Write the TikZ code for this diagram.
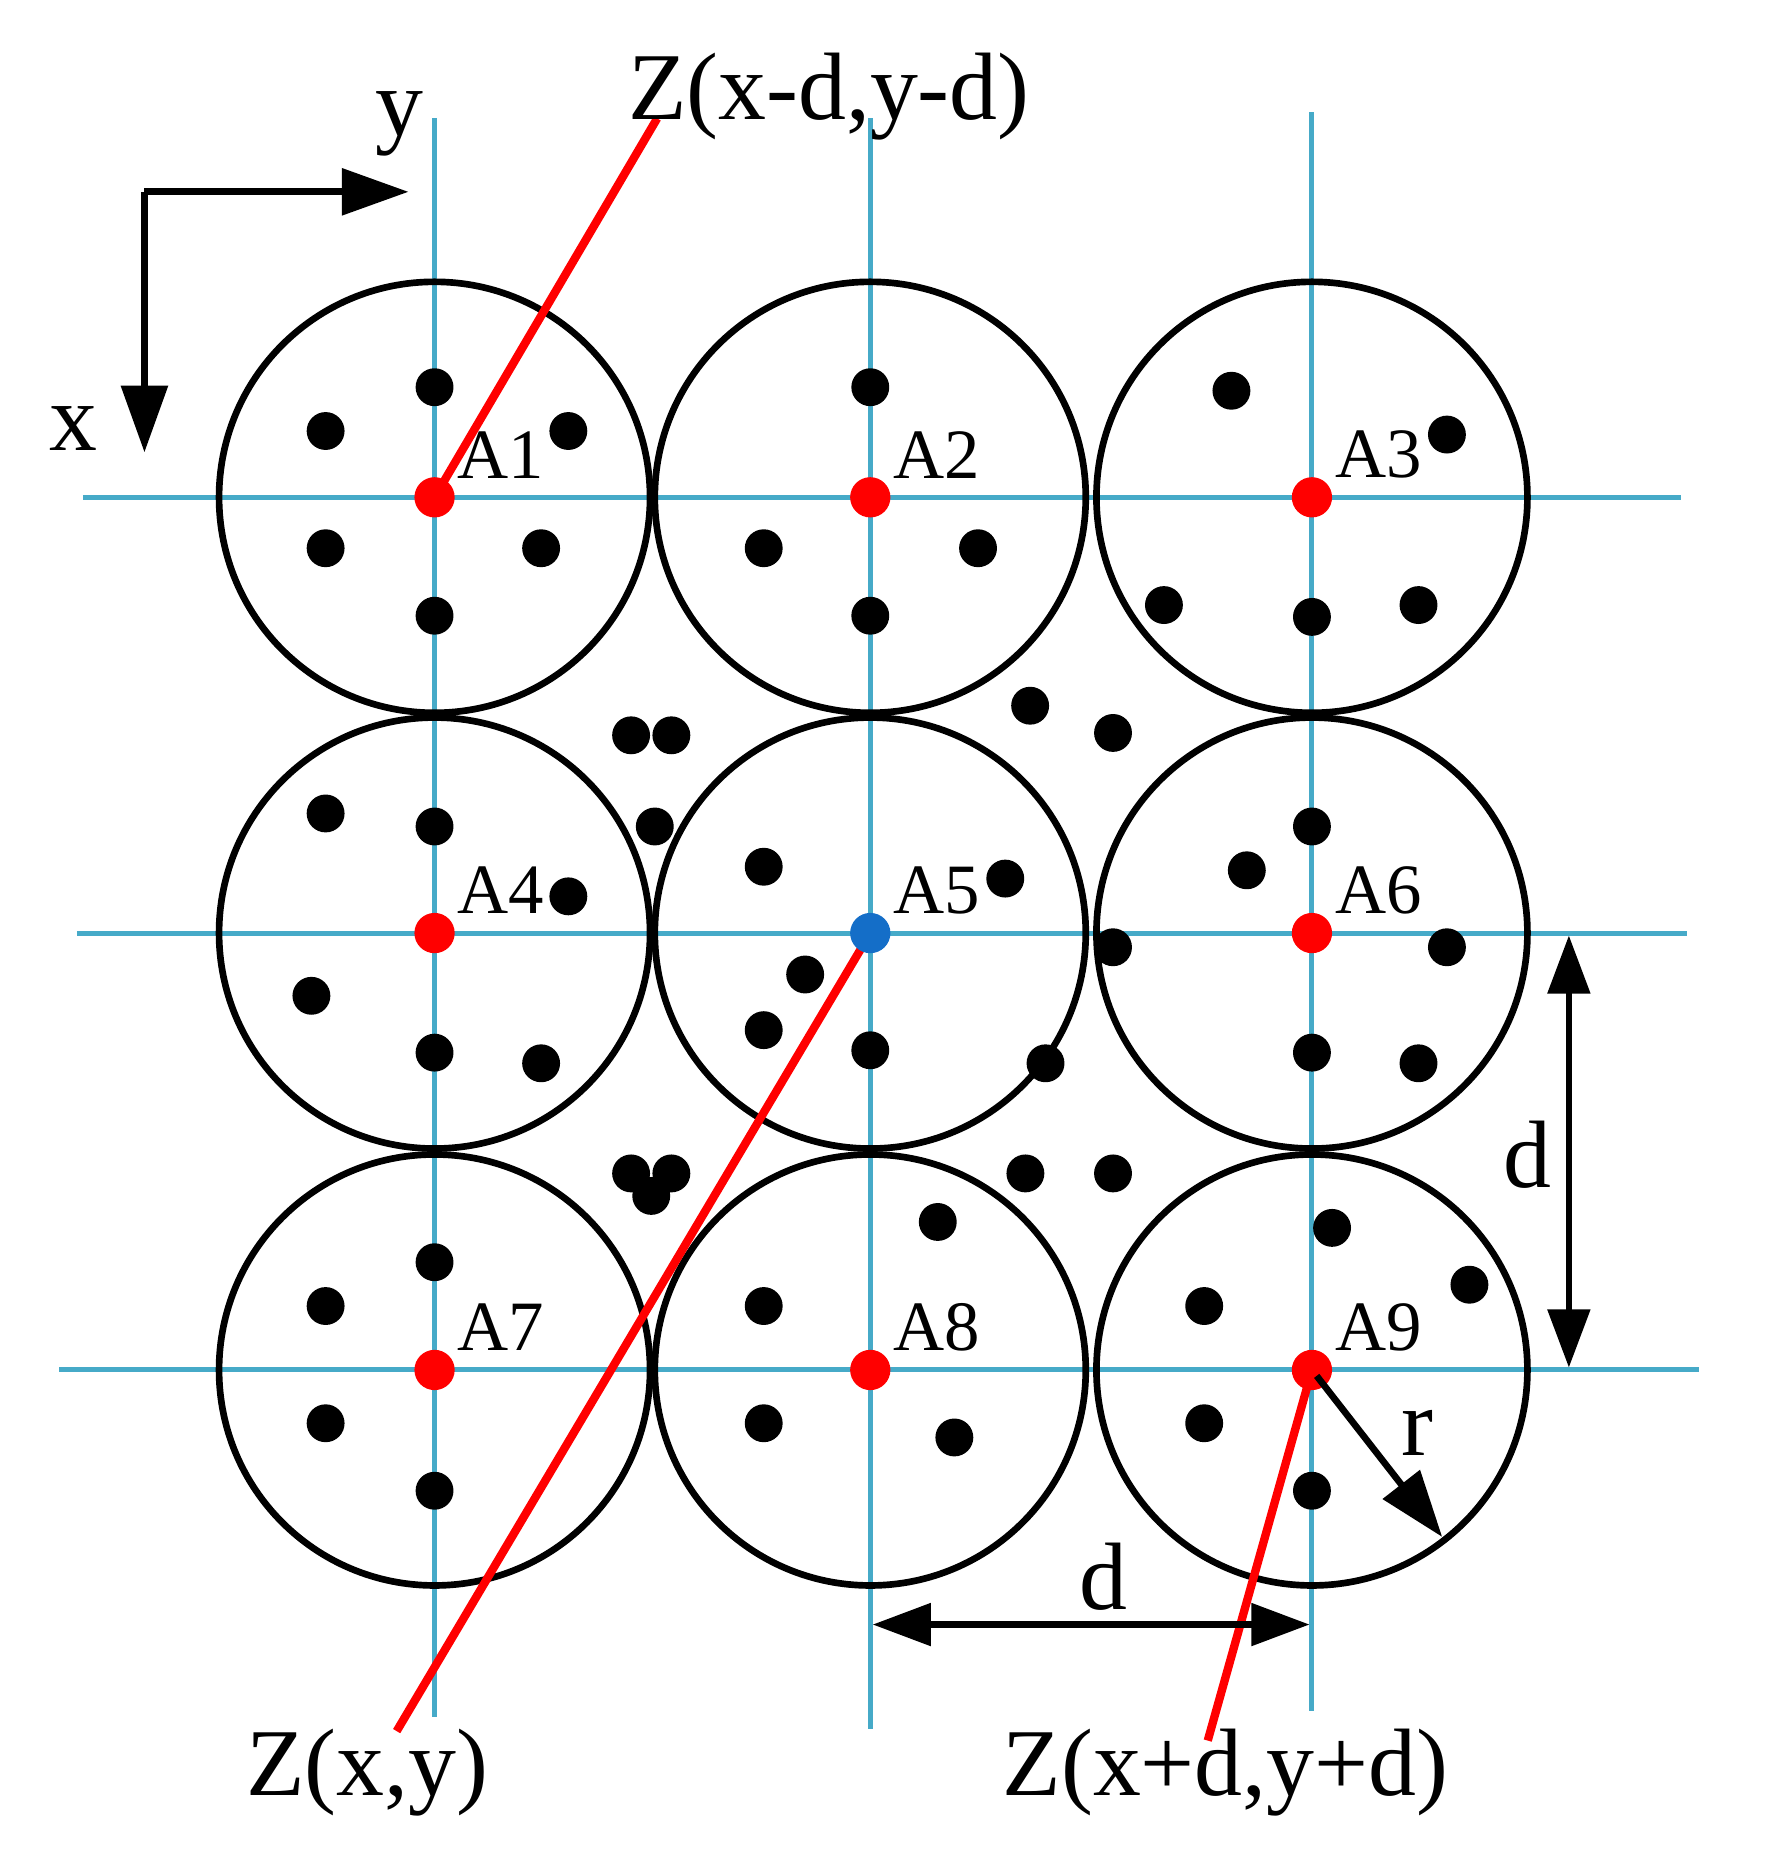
\documentclass[tikz,border=0pt]{standalone}
\usepackage{fontspec}
\setmainfont{Liberation Serif}
\usetikzlibrary{arrows.meta}
\begin{document}
\begin{tikzpicture}[x=0.01cm,y=-0.01cm,
  grid/.style={color={rgb,255:red,70;green,170;blue,200},line width=1.2pt},
  circ/.style={line width=1.6pt},
  rl/.style={red,line width=2pt},
  lbl/.style={font=\fontsize{17}{20}\selectfont},
  big/.style={font=\fontsize{23}{27}\selectfont},
  arr/.style={line width=1.6pt,-{Triangle[length=16pt,width=11pt]}},
  darr/.style={line width=1.6pt,{Triangle[length=14pt,width=10pt]}-{Triangle[length=14pt,width=10pt]}}]
\useasboundingbox (0,0) rectangle (1500,1581);
% grid
\draw[grid] (70,420)--(1420,420);
\draw[grid] (65,788)--(1425,788);
\draw[grid] (50,1157)--(1435,1157);
\draw[grid] (367,100)--(367,1450);
\draw[grid] (735,100)--(735,1460);
\draw[grid] (1108,95)--(1108,1445);
% circles
\foreach \x in {367,735,1108}\foreach \y in {420,788,1157}
  \draw[circ] (\x,\y) circle (182);
% dots
\foreach \p in {(367,327),(275,364),(480,364),(275,463),(457,463),(367,520),
 (735,327),(645,463),(826,463),(735,520),
 (1040,330),(1222,367),(983,511),(1108,521),(1198,511),
 (533,621),(567,621),(553,698),(870,596),(940,619),
 (275,687),(367,698),(480,757),(263,841),(367,889),(457,898),
 (645,732),(849,742),(680,823),(645,870),(735,887),(883,898),
 (1108,698),(1053,735),(940,800),(1222,800),(1108,889),(1198,898),
 (533,991),(567,991),(550,1010),(866,991),(940,991),
 (367,1066),(275,1103),(275,1202),(367,1259),
 (792,1032),(645,1103),(645,1202),(806,1214),
 (1125,1037),(1241,1085),(1017,1103),(1017,1202),(1108,1259)}
  \fill \p circle (16);
% red lines
\coordinate (zt) at (555,100);
\coordinate (zl) at (335,1462);
\coordinate (zr) at (1020,1470);
\draw[rl] (367,420)--(zt);
\draw[rl] (735,788)--(zl);
\draw[rl] (1108,1157)--(zr);
% center nodes
\foreach \x/\y/\n in {367/420/1,735/420/2,1108/420/3,367/788/4,1108/788/6,367/1157/7,735/1157/8,1108/1157/9}{
  \fill[red] (\x,\y) circle (17);
  \node[lbl] at (\x+56,\y-36) {A\n};}
\fill[color={rgb,255:red,20;green,110;blue,200}] (735,788) circle (17);
\node[lbl] at (791,752) {A5};
% labels Z
\node[big] at (700,82) {Z(x-d,y-d)};
\node[big] at (310,1497) {Z(x,y)};
\node[big] at (1035,1497) {Z(x+d,y+d)};
% axes
\draw[arr] (122,162)--(345,162);
\draw[arr] (122,162)--(122,382);
\node[big] at (62,362) {x};
\node[big] at (337,105) {y};
% dimension
\draw[darr] (1325,790)--(1325,1155);
\node[big] at (1290,975) {d};
\draw[darr] (737,1372)--(1106,1372);
\node[big] at (932,1332) {d};
\draw[arr] (1112,1162)--(1218,1298);
\node[big] at (1197,1210) {r};
\end{tikzpicture}
\end{document}
